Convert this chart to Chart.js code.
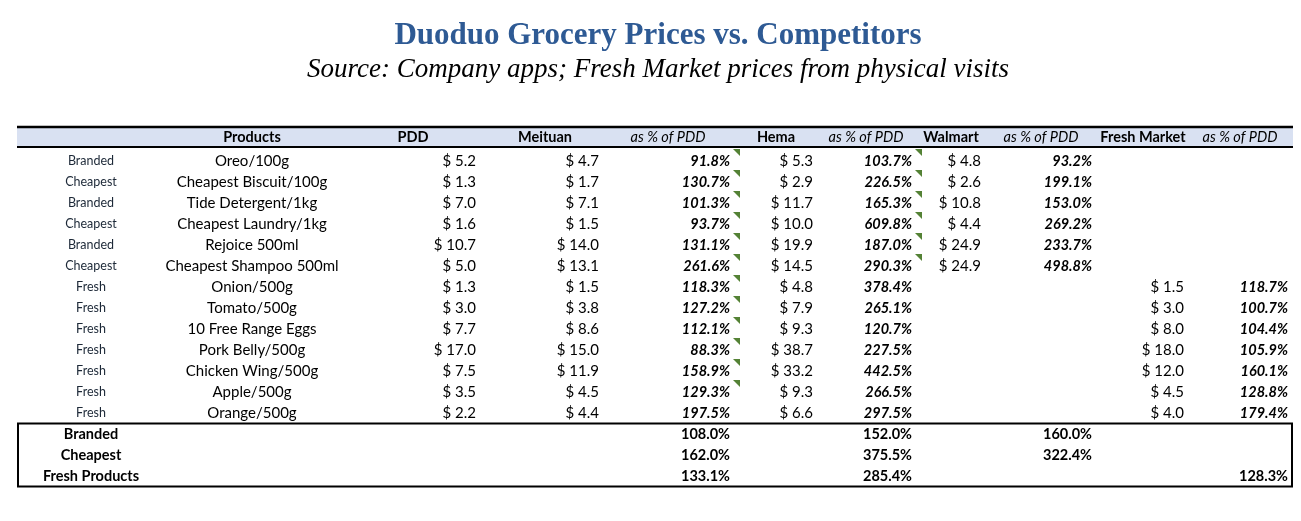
<!DOCTYPE html>
<html>
<head>
<meta charset="utf-8">
<script src="https://cdn.jsdelivr.net/npm/chart.js@4.4.1/dist/chart.umd.min.js"></script>
<style>
  html, body { margin: 0; padding: 0; background: #fff; }
  #wrap { width: 1301px; height: 521px; }
</style>
</head>
<body>
<div id="wrap"><canvas id="priceTable"></canvas></div>
<script>
// Tabellinnhold, lest av bildet
const categories = ["Branded", "Cheapest", "Branded", "Cheapest", "Branded", "Cheapest",
  "Fresh", "Fresh", "Fresh", "Fresh", "Fresh", "Fresh", "Fresh"];
const products = ["Oreo/100g", "Cheapest Biscuit/100g", "Tide Detergent/1kg", "Cheapest Laundry/1kg",
  "Rejoice 500ml", "Cheapest Shampoo 500ml", "Onion/500g", "Tomato/500g", "10 Free Range Eggs",
  "Pork Belly/500g", "Chicken Wing/500g", "Apple/500g", "Orange/500g"];
const pdd        = [5.2, 1.3, 7.0, 1.6, 10.7, 5.0, 1.3, 3.0, 7.7, 17.0, 7.5, 3.5, 2.2];
const meituan    = [4.7, 1.7, 7.1, 1.5, 14.0, 13.1, 1.5, 3.8, 8.6, 15.0, 11.9, 4.5, 4.4];
const meituanPct = [91.8, 130.7, 101.3, 93.7, 131.1, 261.6, 118.3, 127.2, 112.1, 88.3, 158.9, 129.3, 197.5];
const hema       = [5.3, 2.9, 11.7, 10.0, 19.9, 14.5, 4.8, 7.9, 9.3, 38.7, 33.2, 9.3, 6.6];
const hemaPct    = [103.7, 226.5, 165.3, 609.8, 187.0, 290.3, 378.4, 265.1, 120.7, 227.5, 442.5, 266.5, 297.5];
const walmart    = [4.8, 2.6, 10.8, 4.4, 24.9, 24.9, null, null, null, null, null, null, null];
const walmartPct = [93.2, 199.1, 153.0, 269.2, 233.7, 498.8, null, null, null, null, null, null, null];
const freshMkt   = [null, null, null, null, null, null, 1.5, 3.0, 8.0, 18.0, 12.0, 4.5, 4.0];
const freshPct   = [null, null, null, null, null, null, 118.7, 100.7, 104.4, 105.9, 160.1, 128.8, 179.4];

// Kommentar-markører (grønne hjørner i regnearket)
const meituanNote = [1, 1, 1, 1, 1, 1, 1, 0, 1, 1, 1, 1, 1];
const hemaNote    = [1, 1, 1, 1, 1, 1, 0, 0, 0, 0, 0, 0, 0];

// Oppsummering
const summaryLabels  = ["Branded", "Cheapest", "Fresh Products"];
const summaryMeituan = [108.0, 162.0, 133.1];
const summaryHema    = [152.0, 375.5, 285.4];
const summaryWalmart = [160.0, 322.4, null];
const summaryFresh   = [null, null, 128.3];

const rowLabels = products.concat(summaryLabels);

// Kolonneoppsett (x i px langs skalaen)
const FONT = "Lato";
const bodyFont = "15px " + FONT;
const pctFont = "italic bold 14.5px " + FONT;
const PAD_LEFT = 15;
const columns = [
  { head: "",             headFont: "",       headX: 91,   x: 91,   align: "center", values: categories, font: "12.5px " + FONT, color: "#1c2837" },
  { head: "Products",     headFont: "bold",   headX: 252,  x: 252,  align: "center", values: products,   font: bodyFont },
  { head: "PDD",          headFont: "bold",   headX: 413,  x: 476,  align: "right",  values: pdd,        font: bodyFont, fmt: "money" },
  { head: "Meituan",      headFont: "bold",   headX: 545,  x: 599,  align: "right",  values: meituan,    font: bodyFont, fmt: "money" },
  { head: "as % of PDD",  headFont: "italic", headX: 668,  x: 730,  align: "right",  values: meituanPct, font: pctFont,  fmt: "pct", sum: summaryMeituan },
  { head: "Hema",         headFont: "bold",   headX: 776,  x: 813,  align: "right",  values: hema,       font: bodyFont, fmt: "money" },
  { head: "as % of PDD",  headFont: "italic", headX: 866,  x: 912,  align: "right",  values: hemaPct,    font: pctFont,  fmt: "pct", sum: summaryHema },
  { head: "Walmart",      headFont: "bold",   headX: 951,  x: 981,  align: "right",  values: walmart,    font: bodyFont, fmt: "money" },
  { head: "as % of PDD",  headFont: "italic", headX: 1041, x: 1092, align: "right",  values: walmartPct, font: pctFont,  fmt: "pct", sum: summaryWalmart },
  { head: "Fresh Market", headFont: "bold",   headX: 1143, x: 1184, align: "right",  values: freshMkt,   font: bodyFont, fmt: "money" },
  { head: "as % of PDD",  headFont: "italic", headX: 1240, x: 1288, align: "right",  values: freshPct,   font: pctFont,  fmt: "pct", sum: summaryFresh }
];

function formatCell(v, fmt) {
  if (v === null || v === undefined) return "";
  if (fmt === "money") return "$ " + v.toFixed(1);
  if (fmt === "pct") return v.toFixed(1) + "%";
  return v;
}

// Lite grønt hjørne-triangel som punktstil
function noteMarker() {
  const c = document.createElement("canvas");
  c.width = 40; c.height = 40;
  const g = c.getContext("2d");
  g.fillStyle = "#548235";
  g.beginPath();
  g.moveTo(23, 8);
  g.lineTo(30, 8);
  g.lineTo(30, 15);
  g.closePath();
  g.fill();
  return c;
}

function notePoints(flags, x) {
  let pts = [];
  flags.forEach((f, i) => { if (f) pts.push({ x: x, y: i }); });
  return pts;
}

const tablePlugin = {
  id: "tablePlugin",
  beforeDatasetsDraw(chart) {
    const ctx = chart.ctx;
    const xs = chart.scales.x;
    const ys = chart.scales.y;
    const step = ys.getPixelForValue(1) - ys.getPixelForValue(0);
    const headY = ys.getPixelForValue(0) - 24;
    const left = xs.getPixelForValue(17);
    const right = xs.getPixelForValue(1293);

    ctx.save();
    // header-bakgrunn og linjer
    ctx.fillStyle = "#d9e1f2";
    ctx.fillRect(left, headY - 10, right - left, 20);
    ctx.strokeStyle = "#000";
    ctx.lineWidth = 2.5;
    ctx.beginPath();
    ctx.moveTo(left, headY - 10); ctx.lineTo(right, headY - 10);
    ctx.stroke();
    ctx.lineWidth = 2;
    ctx.beginPath();
    ctx.moveTo(left, headY + 10); ctx.lineTo(right, headY + 10);
    ctx.stroke();

    // oppsummeringsboks
    const sTop = ys.getPixelForValue(products.length) - step / 2;
    const sBot = ys.getPixelForValue(rowLabels.length - 1) + step / 2;
    ctx.lineWidth = 2;
    ctx.strokeRect(left + 1, sTop, right - left - 2, sBot - sTop);

    ctx.textBaseline = "middle";
    // kolonneoverskrifter
    columns.forEach(col => {
      if (!col.head) return;
      ctx.font = col.headFont + " 14.5px " + FONT;
      ctx.fillStyle = "#000";
      ctx.textAlign = "center";
      ctx.fillText(col.head, xs.getPixelForValue(col.headX), headY);
    });

    // celler
    columns.forEach(col => {
      ctx.font = col.font;
      ctx.fillStyle = col.color || "#000";
      ctx.textAlign = col.align;
      col.values.forEach((v, i) => {
        const txt = formatCell(v, col.fmt);
        if (txt !== "") ctx.fillText(txt, xs.getPixelForValue(col.x), ys.getPixelForValue(i));
      });
      if (col.sum) {
        ctx.font = "bold 14.5px " + FONT;
        ctx.fillStyle = "#000";
        col.sum.forEach((v, i) => {
          if (v !== null) ctx.fillText(v.toFixed(1) + "%", xs.getPixelForValue(col.x), ys.getPixelForValue(products.length + i));
        });
      }
    });

    // oppsummeringsetiketter
    ctx.font = "bold 14.5px " + FONT;
    ctx.textAlign = "center";
    summaryLabels.forEach((s, i) => {
      ctx.fillText(s, xs.getPixelForValue(91), ys.getPixelForValue(products.length + i));
    });
    ctx.restore();
  }
};

const marker = noteMarker();

new Chart(document.getElementById("priceTable"), {
  type: "scatter",
  data: {
    datasets: [
      { data: notePoints(meituanNote, 730), pointStyle: marker, pointRadius: 20 },
      { data: notePoints(hemaNote, 912), pointStyle: marker, pointRadius: 20 }
    ]
  },
  options: {
    responsive: true,
    maintainAspectRatio: false,
    animation: false,
    events: [],
    layout: { autoPadding: false, padding: { left: PAD_LEFT, right: 0, top: 0, bottom: 34.5 } },
    scales: {
      x: { type: "linear", min: PAD_LEFT, max: 1301, display: false },
      y: { type: "category", labels: rowLabels, offset: true, display: false }
    },
    plugins: {
      legend: { display: false },
      tooltip: { enabled: false },
      title: {
        display: true,
        text: "Duoduo Grocery Prices vs. Competitors",
        color: "#2e5a94",
        font: { family: "Liberation Serif", size: 31, weight: "bold" },
        padding: { top: 17, bottom: 0 }
      },
      subtitle: {
        display: true,
        text: "Source: Company apps; Fresh Market prices from physical visits",
        color: "#000",
        font: { family: "Liberation Serif", size: 27, style: "italic", weight: "normal" },
        padding: { top: 0, bottom: 63.9 }
      }
    }
  },
  plugins: [tablePlugin]
});
</script>
</body>
</html>
